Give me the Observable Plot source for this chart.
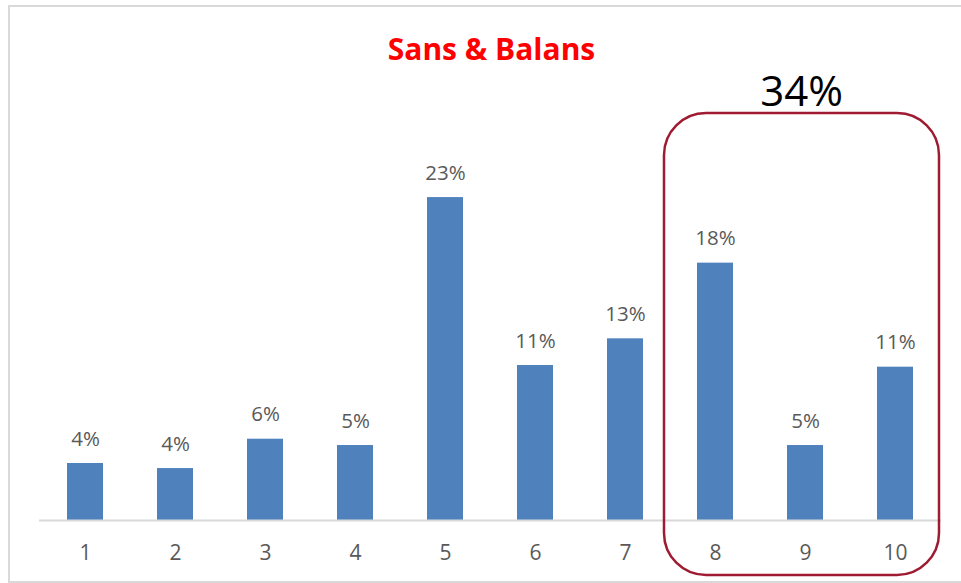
<!DOCTYPE html>
<html>
<head>
<meta charset="utf-8">
<script src="https://cdn.jsdelivr.net/npm/d3@7"></script>
<script src="https://cdn.jsdelivr.net/npm/@observablehq/plot@0.6"></script>
<style>
  html, body { margin: 0; padding: 0; background: #fff; overflow: hidden; }
  #wrap { position: relative; width: 961px; height: 583px; }
  #frame { position: absolute; left: 8px; top: 5px; width: 1000px; height: 574px; border: 2px solid #d9d9d9; box-sizing: content-box; }
  #chart { position: absolute; left: 0; top: 0; }
</style>
</head>
<body>
<div id="wrap"><div id="frame"></div><div id="chart"></div></div>
<script>
const title = "Sans & Balans";
const categories = ["1", "2", "3", "4", "5", "6", "7", "8", "9", "10"];
const values = [4.06, 3.70, 5.79, 5.34, 23.0, 11.04, 12.94, 18.33, 5.34, 10.92];
const labels = ["4%", "4%", "6%", "5%", "23%", "11%", "13%", "18%", "5%", "11%"];
const highlighted = ["8", "9", "10"];

const data = categories.map((c, i) => ({cat: c, value: values[i], label: labels[i]}));
const groupTotal = highlighted
  .map(c => parseInt(labels[categories.indexOf(c)]))
  .reduce((a, b) => a + b, 0) + "%";

const font = "'Open Sans', 'DejaVu Sans', sans-serif";

const boxMark = (index, scales, vals, dims) => {
  const x = scales.x;
  const bw = x.bandwidth ? x.bandwidth() : 36;
  const left = x(highlighted[0]) - 33;
  const right = x(highlighted[highlighted.length - 1]) + bw + 26;
  const top = dims.marginTop - 56;
  const bottom = dims.height - dims.marginBottom + 55;
  const g = d3.create("svg:g");
  g.append("rect")
    .attr("x", left).attr("y", top)
    .attr("width", right - left).attr("height", bottom - top)
    .attr("rx", 42).attr("ry", 42)
    .attr("fill", "none").attr("stroke", "#9e1b32").attr("stroke-width", 2.5);
  g.append("text")
    .attr("x", (left + right) / 2).attr("y", top - 22)
    .attr("dy", "0.36em")
    .attr("text-anchor", "middle")
    .attr("font-family", font).attr("font-size", 42)
    .attr("fill", "#000")
    .text(groupTotal);
  return g.node();
};

const plot = Plot.plot({
  width: 961,
  height: 583,
  marginLeft: 39,
  marginRight: 20,
  marginTop: 169,
  marginBottom: 63,
  style: {fontFamily: font, background: "transparent", overflow: "visible"},
  x: {domain: categories, paddingInner: 0.6, paddingOuter: 0.3, label: null},
  y: {domain: [0, 25], axis: null},
  marks: [
    Plot.barY(data, {x: "cat", y: "value", fill: "#4f81bd"}),
    Plot.ruleY([0], {stroke: "#d9d9d9", strokeWidth: 2}),
    Plot.axisX({tickSize: 0, tickPadding: 25, fontSize: 21, color: "#595959", label: null}),
    Plot.text(data, {x: "cat", y: "value", text: "label", dy: -24.5, lineAnchor: "middle", fontSize: 20.5, fill: "#595959"}),
    Plot.text([title], {frameAnchor: "top", dx: 1, dy: -119.5, lineAnchor: "middle", fontSize: 30, fontWeight: "bold", fill: "#ff0000"}),
    boxMark
  ]
});
document.getElementById("chart").appendChild(plot);
</script>
</body>
</html>
